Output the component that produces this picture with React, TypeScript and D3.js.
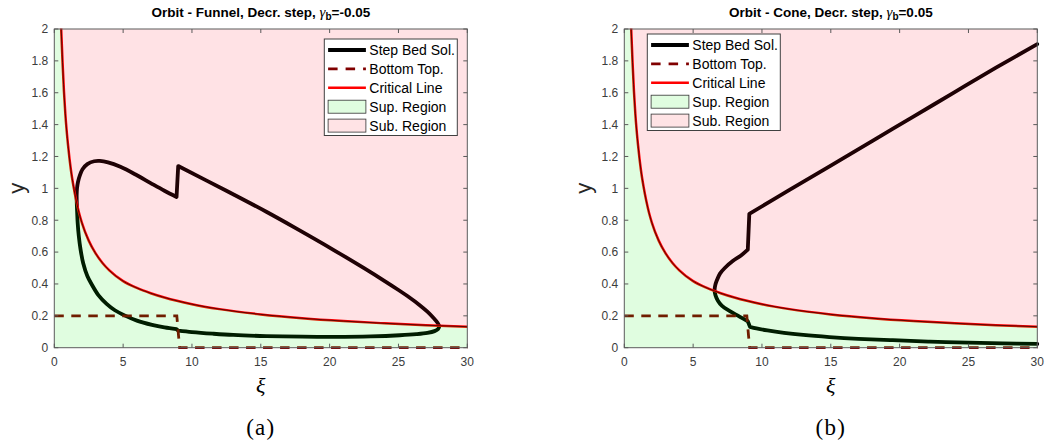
import React from "react";
import * as d3 from "d3";

type Pt = [number, number];

// Axis ticks shared by both panels
const xTicks = [0, 5, 10, 15, 20, 25, 30];
const yTicks = [0, 0.2, 0.4, 0.6, 0.8, 1, 1.2, 1.4, 1.6, 1.8, 2];

// Critical depth line y_c(ξ)
const criticalLine: Pt[] = [
  [0.44, 2.1], [0.5, 2.0], [0.6, 1.79], [0.7, 1.61], [0.8, 1.47], [0.9, 1.36],
  [1.0, 1.27], [1.2, 1.12], [1.4, 1.01], [1.6, 0.92], [1.8, 0.845], [2.0, 0.785],
  [2.5, 0.672], [3.0, 0.592], [3.5, 0.532], [4.0, 0.485], [5.0, 0.418], [6.0, 0.375],
  [7.0, 0.342], [8.0, 0.315], [10, 0.273], [12, 0.242], [15, 0.209], [18, 0.185],
  [21, 0.167], [24, 0.153], [27, 0.141], [30, 0.132],
];

// Bed topography: decreasing step near ξ = 9
const bottomTop: Pt[] = [[0, 0.2], [8.9, 0.2], [9.1, 0], [30, 0]];

// Funnel orbit, γb = -0.05: lower branch left of the step, around the left turn,
// upper branch up to the step
const funnelLeft: Pt[] = [
  [8.88, 0.116], [8.0, 0.127], [7.1, 0.143], [6.0, 0.17], [5.1, 0.203], [4.4, 0.235],
  [3.8, 0.275], [3.2, 0.33], [2.7, 0.4], [2.4, 0.45], [2.1, 0.53], [1.9, 0.62],
  [1.78, 0.7], [1.7, 0.78], [1.66, 0.85], [1.63, 0.92], [1.625, 0.96], [1.65, 1.0],
  [1.72, 1.04], [1.85, 1.08], [2.05, 1.12], [2.4, 1.152], [2.9, 1.17], [3.3, 1.172],
  [3.9, 1.163], [4.8, 1.135], [6.0, 1.082], [7.0, 1.033], [8.0, 0.985], [8.88, 0.946],
];
// Funnel orbit right of the step: upper branch, right turn, lower branch back
const funnelRight: Pt[] = [
  [9.0, 1.14], [12.5, 0.985], [15.4, 0.853], [17.5, 0.752], [20.3, 0.613], [22.5, 0.499],
  [24.0, 0.418], [25.0, 0.362], [25.8, 0.315], [26.5, 0.27], [27.1, 0.226], [27.55, 0.186],
  [27.85, 0.155], [27.96, 0.135], [27.88, 0.117], [27.62, 0.104], [27.1, 0.093],
  [26.3, 0.085], [25.1, 0.078], [23.0, 0.071], [20.3, 0.068], [18.0, 0.069],
  [15.4, 0.073], [13.0, 0.08], [11.5, 0.088], [10.0, 0.098], [9.0, 0.107],
];

// Cone orbit, γb = 0.05
const coneLower: Pt[] = [
  [30, 0.024], [27.5, 0.027], [25, 0.032], [22.2, 0.038], [19.5, 0.047], [17, 0.056],
  [14.9, 0.067], [13, 0.08], [11.6, 0.093], [10.4, 0.108], [9.6, 0.121], [9.13, 0.131],
];
const coneMiddle: Pt[] = [
  [8.97, 0.166], [8.5, 0.189], [7.7, 0.228], [7.1, 0.262], [6.8, 0.295], [6.62, 0.33],
  [6.56, 0.36], [6.6, 0.39], [6.71, 0.42], [6.95, 0.465], [7.3, 0.5], [7.9, 0.545],
  [8.5, 0.58], [8.97, 0.615],
];
const coneUpper: Pt[] = [
  [9.08, 0.84], [12, 0.99], [15, 1.143], [18, 1.297], [21, 1.45], [24, 1.604],
  [27, 1.757], [30, 1.905],
];

const legendLabels = ["Step Bed Sol.", "Bottom Top.", "Critical Line", "Sup. Region", "Sub. Region"];

const SANS = "'Liberation Sans', Arial, Helvetica, sans-serif";
const SERIF = "'Liberation Serif', 'Times New Roman', serif";

const TOP = 29;
const BOTTOM = 347.7;
const AXW = 413;

interface PanelProps {
  id: string;
  x0: number;
  name: string;
  gamma: string;
  pieces: Pt[][];
  closed: boolean;
  legendX: number;
  legendY: number;
  yLabelX: number;
  caption: string;
}

function Panel({ id, x0, name, gamma, pieces, closed, legendX, legendY, yLabelX, caption }: PanelProps) {
  const X = d3.scaleLinear().domain([0, 30]).range([x0, x0 + AXW]);
  const Y = d3.scaleLinear().domain([0, 2]).range([BOTTOM, TOP]);

  const smooth = d3
    .line<Pt>()
    .x((d) => X(d[0]))
    .y((d) => Y(d[1]))
    .curve(d3.curveCatmullRom.alpha(0.5));
  const mono = d3
    .line<Pt>()
    .x((d) => X(d[0]))
    .y((d) => Y(d[1]))
    .curve(d3.curveMonotoneX);
  const straight = d3
    .line<Pt>()
    .x((d) => X(d[0]))
    .y((d) => Y(d[1]));

  // orbit pieces joined by straight jumps across the step
  const orbit =
    pieces
      .map((p, i) => {
        const s = smooth(p) as string;
        return i === 0 ? s : "L" + s.slice(1);
      })
      .join("") + (closed ? "Z" : "");

  const crit = mono(criticalLine) as string;
  const c0 = criticalLine[0];
  const yTop = c0[1];
  const supRegion = `M${X(0)},${Y(0)}L${X(0)},${Y(yTop)}L${crit.slice(1)}L${X(30)},${Y(0)}Z`;
  const subRegion = `${crit}L${X(30)},${Y(yTop)}L${X(c0[0])},${Y(yTop)}Z`;

  const cx = x0 + AXW / 2;
  const pad = 2;

  const rowY = (i: number) => legendY + 11 + i * 18.9;

  return (
    <g>
      <defs>
        <clipPath id={`${id}-area`}>
          <rect x={x0} y={TOP} width={AXW} height={BOTTOM - TOP} />
        </clipPath>
        <clipPath id={`${id}-lines`}>
          <rect x={x0 - pad} y={TOP - 0.5} width={AXW + pad * 2} height={BOTTOM - TOP + pad + 0.5} />
        </clipPath>
      </defs>

      <rect x={x0} y={TOP} width={AXW} height={BOTTOM - TOP} fill="#fff" />

      <g clipPath={`url(#${id}-lines)`}>
        <path d={orbit} fill="none" stroke="#000" strokeWidth={3.8} strokeLinejoin="round" strokeLinecap="round" />
        <path d={straight(bottomTop) as string} fill="none" stroke="#800000" strokeWidth={2.8} strokeDasharray="9.5,7.5" />
        <path d={crit} fill="none" stroke="#ff0000" strokeWidth={2.5} />
      </g>

      {/* translucent regions laid over the curves */}
      <g clipPath={`url(#${id}-area)`}>
        <path d={supRegion} fill="rgb(0,235,0)" fillOpacity={0.12} stroke="none" />
        <path d={subRegion} fill="rgb(255,20,40)" fillOpacity={0.12} stroke="none" />
        <path d={crit} fill="none" stroke="#000" strokeWidth={0.7} strokeOpacity={0.9} />
      </g>

      {/* axes box and ticks */}
      <rect x={x0} y={TOP} width={AXW} height={BOTTOM - TOP} fill="none" stroke="#5a5a5a" strokeWidth={1} />
      {xTicks.map((t) => (
        <g key={`x${t}`}>
          <line x1={X(t)} x2={X(t)} y1={BOTTOM} y2={BOTTOM - 4} stroke="#5a5a5a" />
          <line x1={X(t)} x2={X(t)} y1={TOP} y2={TOP + 4} stroke="#5a5a5a" />
          <text x={X(t)} y={366.3} textAnchor="middle" fontFamily={SANS} fontSize={12} fill="#3c3c3c">
            {t}
          </text>
        </g>
      ))}
      {yTicks.map((t) => (
        <g key={`y${t}`}>
          <line x1={x0} x2={x0 + 4} y1={Y(t)} y2={Y(t)} stroke="#5a5a5a" />
          <line x1={x0 + AXW} x2={x0 + AXW - 4} y1={Y(t)} y2={Y(t)} stroke="#5a5a5a" />
          <text x={x0 - 6} y={Y(t) + 4.3} textAnchor="end" fontFamily={SANS} fontSize={12} fill="#3c3c3c">
            {String(+t.toFixed(1))}
          </text>
        </g>
      ))}

      {/* title */}
      <text x={cx} y={16.7} textAnchor="middle" fontFamily={SANS} fontSize={13.5} fontWeight="bold" fill="#000">
        {`Orbit - ${name}, Decr. step, `}
        <tspan fontFamily={SERIF} fontStyle="italic" fontWeight="normal" fontSize={15}>
          γ
        </tspan>
        <tspan fontSize={10} dy={3.5}>
          b
        </tspan>
        <tspan dy={-3.5}>{`=${gamma}`}</tspan>
      </text>

      {/* axis labels */}
      <text
        transform={`translate(${yLabelX},${(TOP + BOTTOM) / 2}) rotate(-90)`}
        textAnchor="middle"
        fontFamily={SANS}
        fontSize={22}
        fill="#262626"
      >
        y
      </text>
      <text x={cx} y={393} textAnchor="middle" fontFamily={SERIF} fontStyle="italic" fontSize={22} fill="#000">
        ξ
      </text>
      <text x={cx} y={435} textAnchor="middle" fontFamily={SERIF} fontSize={23} letterSpacing={1.2} fill="#000">
        {caption}
      </text>

      {/* legend */}
      <rect x={legendX} y={legendY} width={133} height={96.5} fill="#fff" stroke="#404040" strokeWidth={1} />
      {legendLabels.map((lab, i) => {
        const ry = rowY(i);
        const lx0 = legendX + 3.8;
        const lx1 = legendX + 41.6;
        let sample: React.ReactNode = null;
        if (i === 0) sample = <line x1={lx0} x2={lx1} y1={ry} y2={ry} stroke="#000" strokeWidth={3.8} />;
        if (i === 1)
          sample = <line x1={lx0} x2={lx1} y1={ry} y2={ry} stroke="#800000" strokeWidth={2.8} strokeDasharray="9.5,8" />;
        if (i === 2) sample = <line x1={lx0} x2={lx1} y1={ry} y2={ry} stroke="#ff0000" strokeWidth={2.6} />;
        if (i === 3)
          sample = <rect x={lx0} y={ry - 6.5} width={lx1 - lx0} height={13} fill="#e0fde0" stroke="#333" strokeWidth={0.8} />;
        if (i === 4)
          sample = <rect x={lx0} y={ry - 6.5} width={lx1 - lx0} height={13} fill="#ffe3e5" stroke="#333" strokeWidth={0.8} />;
        return (
          <g key={lab}>
            {sample}
            <text x={legendX + 45} y={ry + 5} fontFamily={SANS} fontSize={14} fill="#000">
              {lab}
            </text>
          </g>
        );
      })}
    </g>
  );
}

export default function App() {
  return (
    <svg
      width={1045}
      height={445}
      viewBox="0 0 1045 445"
      style={{ position: "absolute", left: 0, top: 0, background: "#fff" }}
    >
      <rect x={0} y={0} width={1045} height={445} fill="#fff" />
      <Panel
        id="funnel"
        x0={54.3}
        name="Funnel"
        gamma="-0.05"
        pieces={[funnelLeft, funnelRight]}
        closed={true}
        legendX={324.3}
        legendY={39}
        yLabelX={24}
        caption="(a)"
      />
      <Panel
        id="cone"
        x0={624.3}
        name="Cone"
        gamma="0.05"
        pieces={[coneLower, coneMiddle, coneUpper]}
        closed={false}
        legendX={647.3}
        legendY={34}
        yLabelX={590.5}
        caption="(b)"
      />
    </svg>
  );
}
